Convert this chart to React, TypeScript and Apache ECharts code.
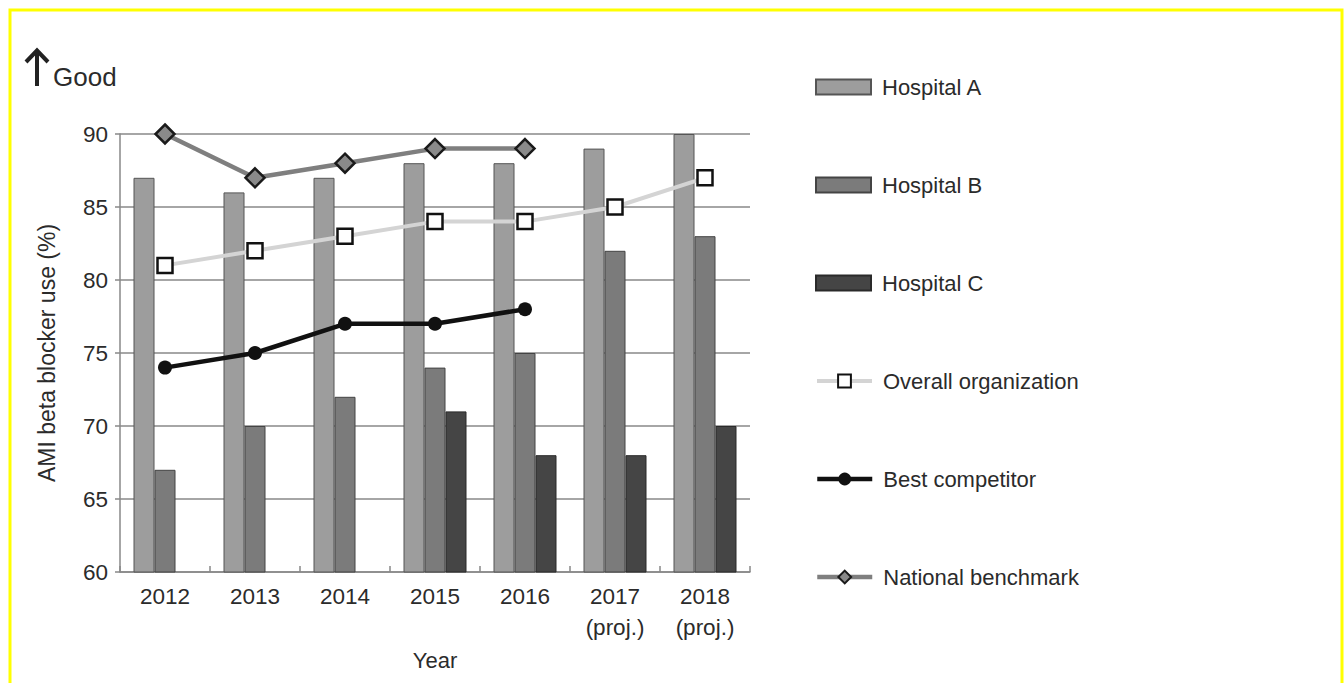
import React, { useEffect, useRef } from "react";
import * as echarts from "echarts";

const years = ["2012", "2013", "2014", "2015", "2016", "2017\n(proj.)", "2018\n(proj.)"];
const hospitalA = [87, 86, 87, 88, 88, 89, 90];
const hospitalB = [67, 70, 72, 74, 75, 82, 83];
const hospitalC = [null, null, null, 71, 68, 68, 70];
const overallOrg = [81, 82, 83, 84, 84, 85, 87];
const bestCompetitor = [74, 75, 77, 77, 78, null, null];
const nationalBenchmark = [90, 87, 88, 89, 89, null, null];
const legendNames = [
  "Hospital A",
  "Hospital B",
  "Hospital C",
  "Overall organization",
  "Best competitor",
  "National benchmark",
];
const yMin = 60;
const yMax = 90;
const yInterval = 5;

const FONT = "'Liberation Sans', Arial, Helvetica, sans-serif";
const TEXT = "#2b2b2b";

export default function App() {
  const ref = useRef<HTMLDivElement>(null);
  useEffect(() => {
    if (!ref.current) return;
    const chart = echarts.init(ref.current, null, { renderer: "svg" });
    const legendTop0 = 71;
    const legendStep = 98;
    const lineWidths: Record<string, number> = {
      "Overall organization": 4,
      "Best competitor": 4.5,
      "National benchmark": 4.5,
    };
    const option: any = {
      animation: false,
      backgroundColor: "#ffffff",
      textStyle: { fontFamily: FONT, color: TEXT },
      grid: { left: 120, right: 594, top: 134, bottom: 111, containLabel: false },
      legend: legendNames.map((n, i) => ({
        data: [i < 3 ? { name: n, icon: "rect" } : { name: n }],
        orient: "vertical",
        left: 810,
        top: legendTop0 + i * legendStep,
        itemWidth: 55,
        itemHeight: i < 3 ? 15 : 16,
        selectedMode: false,
        lineStyle: lineWidths[n] ? { width: lineWidths[n] } : undefined,
        textStyle: { fontSize: 22, fontFamily: FONT, color: TEXT, padding: [0, 0, 0, 6] },
      })),
      xAxis: {
        type: "category",
        data: years,
        name: "Year",
        nameLocation: "middle",
        nameGap: 77,
        nameTextStyle: { fontSize: 22, fontFamily: FONT, color: TEXT },
        axisLine: { show: true, lineStyle: { color: "#888", width: 1.5 } },
        axisTick: { show: true, inside: true, length: 6, alignWithLabel: false, lineStyle: { color: "#888", width: 1.5 } },
        axisLabel: { fontSize: 22.5, fontFamily: FONT, color: TEXT, margin: 9, lineHeight: 31 },
        splitLine: { show: false },
      },
      yAxis: {
        type: "value",
        min: yMin,
        max: yMax,
        interval: yInterval,
        name: "AMI beta blocker use (%)",
        nameLocation: "middle",
        nameGap: 62,
        nameRotate: 90,
        nameTextStyle: { fontSize: 23, fontFamily: FONT, color: TEXT },
        axisLine: { show: true, lineStyle: { color: "#888", width: 1.5 } },
        axisTick: { show: true, length: 5, lineStyle: { color: "#888", width: 1.5 } },
        axisLabel: { fontSize: 22.5, fontFamily: FONT, color: TEXT, margin: 12 },
        splitLine: { show: true, lineStyle: { color: "#888", width: 1.5 } },
      },
      series: [
        {
          name: "Hospital A",
          type: "bar",
          data: hospitalA,
          barWidth: 21,
          barGap: "0%",
          z: 2,
          itemStyle: { color: "#9d9d9d", borderColor: "#555", borderWidth: 1 },
        },
        {
          name: "Hospital B",
          type: "bar",
          data: hospitalB,
          barWidth: 21,
          barGap: "0%",
          z: 2,
          itemStyle: { color: "#7b7b7b", borderColor: "#444", borderWidth: 1 },
        },
        {
          name: "Hospital C",
          type: "bar",
          data: hospitalC,
          barWidth: 21,
          barGap: "0%",
          z: 2,
          itemStyle: { color: "#454545", borderColor: "#2a2a2a", borderWidth: 1 },
        },
        {
          name: "Overall organization",
          type: "line",
          data: overallOrg,
          z: 4,
          symbol: "rect",
          symbolSize: 15,
          showAllSymbol: true,
          lineStyle: { color: "#d4d4d4", width: 4 },
          itemStyle: { color: "#ffffff", borderColor: "#111", borderWidth: 2.5 },
        },
        {
          name: "Best competitor",
          type: "line",
          data: bestCompetitor,
          z: 4,
          symbol: "circle",
          symbolSize: 14,
          showAllSymbol: true,
          lineStyle: { color: "#111", width: 4.5 },
          itemStyle: { color: "#111", borderColor: "#111", borderWidth: 0 },
        },
        {
          name: "National benchmark",
          type: "line",
          data: nationalBenchmark,
          z: 4,
          symbol: "diamond",
          symbolSize: 19,
          showAllSymbol: true,
          lineStyle: { color: "#7f7f7f", width: 4.5 },
          itemStyle: { color: "#8a8a8a", borderColor: "#1a1a1a", borderWidth: 2.5 },
        },
      ],
      graphic: [
        {
          type: "polyline",
          silent: true,
          shape: { points: [[10, 690], [10, 10], [1342, 10], [1342, 690]] },
          style: { stroke: "#ffff00", lineWidth: 3, fill: "none" },
          z: 100,
        },
        {
          type: "line",
          silent: true,
          shape: { x1: 37, y1: 86, x2: 37, y2: 51 },
          style: { stroke: "#222", lineWidth: 4 },
        },
        {
          type: "polyline",
          silent: true,
          shape: { points: [[26, 62], [37, 50.5], [48, 62]] },
          style: { stroke: "#222", lineWidth: 4, fill: "none" },
        },
        {
          type: "text",
          silent: true,
          x: 53,
          y: 77,
          style: {
            text: "Good",
            fontSize: 26,
            fontFamily: FONT,
            fill: TEXT,
            verticalAlign: "middle",
            align: "left",
          },
        },
      ],
    };
    chart.setOption(option);
    return () => chart.dispose();
  }, []);
  return (
    <div
      ref={ref}
      style={{ position: "fixed", left: 0, top: 0, width: 1344, height: 683, background: "#fff" }}
    />
  );
}
